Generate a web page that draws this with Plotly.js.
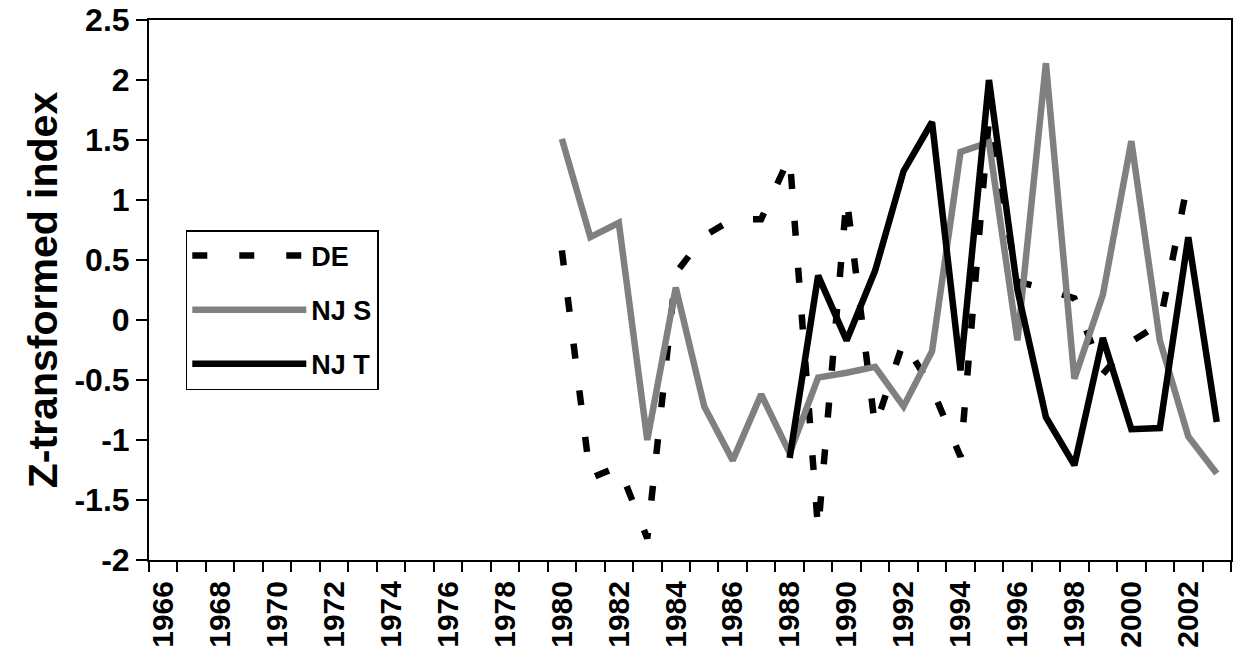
<!DOCTYPE html>
<html>
<head>
<meta charset="utf-8">
<script src="https://cdn.plot.ly/plotly-3.0.1.min.js"></script>
<style>html,body{margin:0;padding:0;background:#fff;}#chart{width:1233px;height:662px;}</style>
</head>
<body>
<div id="chart"></div>
<script>
// ---- data ----
const years = [1980,1981,1982,1983,1984,1985,1986,1987,1988,1989,1990,1991,1992,1993,1994,1995,1996,1997,1998,1999,2000,2001,2002,2003];
const deValues = [0.58,-1.32,-1.22,-1.82,0.39,0.70,0.84,0.84,1.36,-1.75,1.02,-0.89,-0.18,-0.57,-1.14,1.68,0.32,0.26,0.18,-0.45,-0.18,-0.03,1.17,null];
const njsValues = [1.51,0.69,0.81,-1.00,0.27,-0.72,-1.17,-0.62,-1.11,-0.48,-0.44,-0.39,-0.72,-0.26,1.40,1.48,-0.17,2.14,-0.49,0.21,1.49,-0.17,-0.97,-1.28];
const njtValues = [null,null,null,null,null,null,null,null,-1.15,0.37,-0.17,0.41,1.24,1.65,-0.42,2.00,0.25,-0.81,-1.21,-0.15,-0.91,-0.90,0.69,-0.85];
const seriesNames = ["DE","NJ S","NJ T"];
const xTickYears = [1966,1968,1970,1972,1974,1976,1978,1980,1982,1984,1986,1988,1990,1992,1994,1996,1998,2000,2002];
const xTickLabels = ["1966","1968","1970","1972","1974","1976","1978","1980","1982","1984","1986","1988","1990","1992","1994","1996","1998","2000","2002"];
const yTickVals = [-2,-1.5,-1,-0.5,0,0.5,1,1.5,2,2.5];
const yTickLabels = ["-2","-1.5","-1","-0.5","0","0.5","1","1.5","2","2.5"];
const yTitle = "Z-transformed index";

const FONT = "Arial, 'Liberation Sans', Helvetica, sans-serif";
const xRange = [1965.5, 2003.5];

const traces = [
  {x: years, y: deValues, name: seriesNames[0], type: "scatter", mode: "lines",
   line: {color: "#000000", width: 6.5, dash: "15px,32px"}, connectgaps: false, legendgroup: "a"},
  {x: years, y: njsValues, name: seriesNames[1], type: "scatter", mode: "lines",
   line: {color: "#808080", width: 6.5}, connectgaps: false, legendgroup: "b"},
  {x: years, y: njtValues, name: seriesNames[2], type: "scatter", mode: "lines",
   line: {color: "#000000", width: 6.5}, connectgaps: false, legendgroup: "c"},
  {x: [], y: [], xaxis: "x2", yaxis: "y", showlegend: false, hoverinfo: "skip", type: "scatter", mode: "lines"}
];

const layout = {
  width: 1233, height: 662,
  margin: {l: 149, r: 2, t: 20, b: 102, pad: 0},
  paper_bgcolor: "#ffffff", plot_bgcolor: "#ffffff",
  font: {family: FONT, color: "#000000", weight: "bold"},
  showlegend: true,
  legend: {
    x: 0.034, y: 0.611, xanchor: "left", yanchor: "top",
    bgcolor: "#ffffff", bordercolor: "#000000", borderwidth: 1.5,
    font: {family: FONT, size: 27, color: "#000000", weight: "bold"},
    itemwidth: 114, tracegroupgap: 16, traceorder: "grouped"
  },
  xaxis: {
    range: xRange, tickmode: "array", tickvals: xTickYears, ticktext: xTickLabels,
    tickangle: -90, ticks: "outside", ticklen: 7, tickcolor: "rgba(0,0,0,0)",
    showline: true, linecolor: "#000000", linewidth: 2, mirror: true,
    showgrid: false, zeroline: false,
    tickfont: {family: FONT, size: 30, color: "#000000", weight: "bold"}
  },
  xaxis2: {
    overlaying: "x", anchor: "y", side: "bottom", range: xRange,
    tickmode: "linear", tick0: 1965.5, dtick: 1, ticks: "outside", ticklen: 11,
    tickwidth: 2, tickcolor: "#000000", showticklabels: false,
    showgrid: false, zeroline: false, showline: false
  },
  yaxis: {
    range: [-2, 2.5], tickmode: "array", tickvals: yTickVals, ticktext: yTickLabels,
    ticks: "outside", ticklen: 11, tickwidth: 2, tickcolor: "#000000",
    showline: true, linecolor: "#000000", linewidth: 2, mirror: true,
    showgrid: false, zeroline: false,
    tickfont: {family: FONT, size: 32, color: "#000000", weight: "bold"},
    title: {text: yTitle, font: {family: FONT, size: 41, color: "#000000", weight: "bold"}, standoff: 4}
  }
};

Plotly.newPlot("chart", traces, layout, {displayModeBar: false, staticPlot: true});
</script>
</body>
</html>
